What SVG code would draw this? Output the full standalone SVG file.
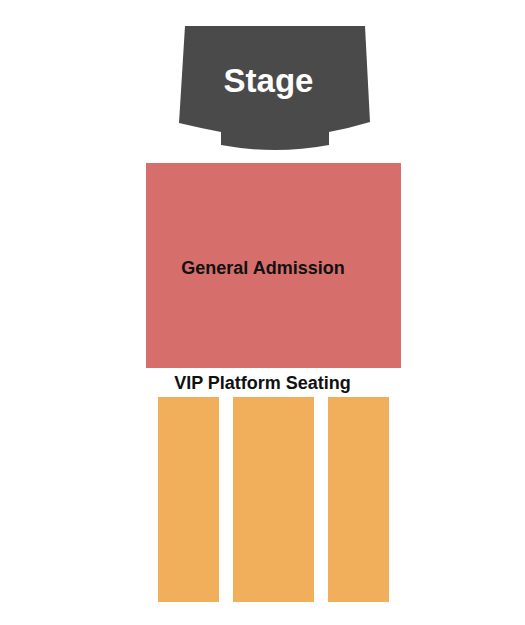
<svg xmlns="http://www.w3.org/2000/svg" width="525" height="625" viewBox="0 0 525 625">
<style>
text{font-family:"Liberation Sans",Arial,sans-serif;font-weight:bold;text-anchor:middle}
.vip{fill:#f1ae5b}
</style>
<rect width="525" height="625" fill="#ffffff"/>
<g id="stage">
<path d="M185,26 L365,26 L370,122 Q350,128 329,132 L329,145 Q275,155 221,145 L221,132 Q200,128 179,123 Z" fill="#4a4a4a"/>
<text x="268.5" y="92" font-size="33" fill="#ffffff">Stage</text>
</g>
<g id="general-admission">
<rect x="146" y="163" width="255" height="205" fill="#d66e6c"/>
<text x="263" y="274" font-size="18" fill="#111111">General Admission</text>
</g>
<g id="vip-platform-seating">
<text x="262.5" y="389" font-size="18" fill="#111111">VIP Platform Seating</text>
<rect class="vip" x="158" y="397" width="61" height="205"/>
<rect class="vip" x="233" y="397" width="81" height="205"/>
<rect class="vip" x="328" y="397" width="61" height="205"/>
</g>
<g id="connectors"/>
</svg>
